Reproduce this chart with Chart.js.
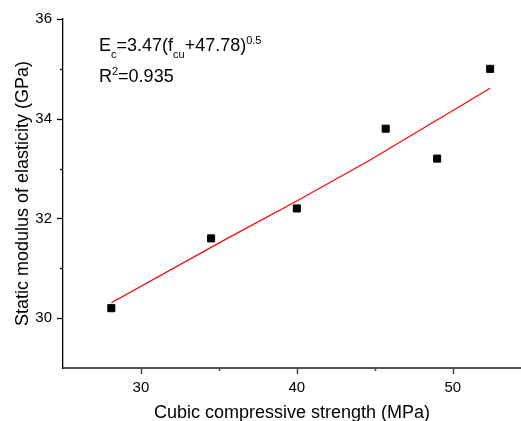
<!DOCTYPE html>
<html><head><meta charset="utf-8">
<script src="https://cdn.jsdelivr.net/npm/chart.js@4/dist/chart.umd.min.js"></script>
<style>html,body{margin:0;padding:0;background:#fff;overflow:hidden}</style>
</head><body>
<canvas id="c" width="521" height="421"></canvas>
<script>
// Measured points
const strength = [28.1, 34.5, 40.0, 45.7, 49.0, 52.4];
const modulus  = [30.2, 31.6, 32.2, 33.8, 33.2, 35.0];
// Fitted curve
const fitX = [28.1, 35.6, 40.0, 44.7, 52.4];
const fitY = [30.31, 31.61, 32.35, 33.17, 34.61];
// Ticks
const xMajor = [30, 40, 50];
const xMinor = [35, 45];
const yMajor = [30, 32, 34, 36];
const yMinor = [31, 33, 35];
const xTitle = 'Cubic compressive strength (MPa)';
const yTitle = 'Static modulus of elasticity (GPa)';
const eqParts = [['E',0],['c',-1],['=3.47(f',0],['cu',-1],['+47.78)',0],['0.5',1]];
const r2Parts = [['R',0],['2',1],['=0.935',0]];

const FONT = '"Liberation Sans", Arial, sans-serif';

const extras = {
  id: 'extras',
  afterDraw(chart) {
    const ctx = chart.ctx, xs = chart.scales.x, ys = chart.scales.y, ca = chart.chartArea;
    ctx.save();
    // x tick marks
    ctx.strokeStyle = '#444'; ctx.lineWidth = 1.5;
    const xb = ca.bottom;
    [[xMajor,6],[xMinor,3]].forEach(([vals,len]) => vals.forEach(v => {
      const p = Math.round(xs.getPixelForValue(v)) + 0.5;
      ctx.beginPath(); ctx.moveTo(p, xb); ctx.lineTo(p, xb + len); ctx.stroke();
    }));
    // y tick marks
    ctx.strokeStyle = '#000'; ctx.lineWidth = 1.3;
    const yl = ca.left;
    [[yMajor,6],[yMinor,3]].forEach(([vals,len]) => vals.forEach(v => {
      const p = Math.round(ys.getPixelForValue(v)) + 0.5;
      ctx.beginPath(); ctx.moveTo(yl - len, p); ctx.lineTo(yl, p); ctx.stroke();
    }));
    // equation text
    ctx.fillStyle = '#000'; ctx.textBaseline = 'alphabetic'; ctx.textAlign = 'left';
    const drawParts = (parts, x, base) => {
      parts.forEach(([t, mode]) => {
        const size = mode === 0 ? 18 : 11;
        ctx.font = size + 'px ' + FONT;
        const y = mode === 0 ? base : (mode < 0 ? base + 6.5 : base - 7);
        ctx.fillText(t, x, y);
        x += ctx.measureText(t).width;
      });
    };
    drawParts(eqParts, ca.left + 36, ca.top + 32);
    drawParts(r2Parts, ca.left + 36, ca.top + 63);
    ctx.restore();
  }
};

new Chart(document.getElementById('c'), {
  type: 'scatter',
  data: {
    datasets: [
      {
        data: strength.map((x, i) => ({x, y: modulus[i]})),
        pointStyle: 'rect', pointRadius: 5, pointHoverRadius: 5,
        backgroundColor: '#000', borderColor: '#000', borderWidth: 1
      },
      {
        type: 'line',
        data: fitX.map((x, i) => ({x, y: fitY[i]})),
        borderColor: '#ff0000', borderWidth: 1.2, pointRadius: 0,
        tension: 0, fill: false
      }
    ]
  },
  plugins: [extras],
  options: {
    responsive: false, devicePixelRatio: 1, animation: false,
    layout: { autoPadding: false, padding: { top: 19, left: 11, right: 0, bottom: 0 } },
    plugins: { legend: { display: false }, tooltip: { enabled: false } },
    scales: {
      x: {
        type: 'linear', min: 25, max: 54.38,
        afterBuildTicks: s => { s.ticks = xMajor.map(v => ({value: v})); },
        ticks: { color: '#000', font: { size: 15, family: FONT }, padding: 5, autoSkip: false, maxRotation: 0 },
        grid: { drawOnChartArea: false, tickLength: 6, color: 'rgba(0,0,0,0)', tickColor: 'rgba(0,0,0,0)' },
        border: { display: true, color: '#555', width: 2 },
        title: { display: true, text: xTitle, color: '#000', font: { size: 18, family: FONT }, padding: { top: 0.4, bottom: -3 } }
      },
      y: {
        type: 'linear', min: 29, max: 36,
        afterBuildTicks: s => { s.ticks = yMajor.map(v => ({value: v})); },
        ticks: { color: '#000', font: { size: 15, family: FONT }, padding: 5, autoSkip: false },
        grid: { drawOnChartArea: false, tickLength: 6, color: 'rgba(0,0,0,0)', tickColor: 'rgba(0,0,0,0)' },
        border: { display: true, color: '#000', width: 1.3 },
        title: { display: true, text: yTitle, color: '#000', font: { size: 18, family: FONT }, padding: { top: 1.2, bottom: -3.5 } }
      }
    }
  }
});
</script>
</body></html>
